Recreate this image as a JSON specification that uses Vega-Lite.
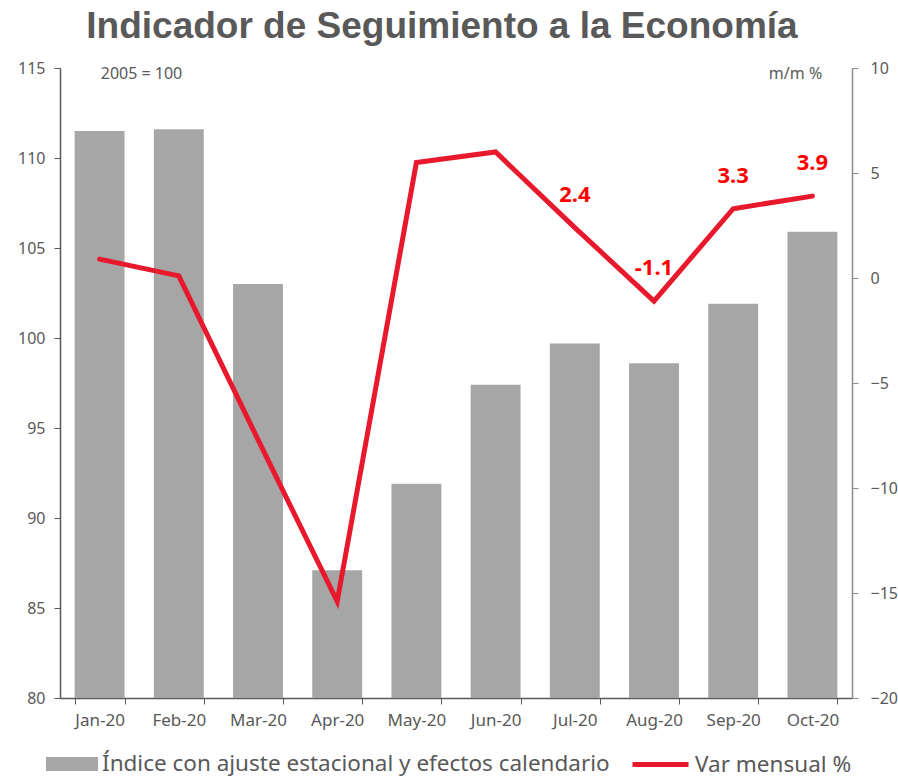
{
  "$schema": "https://vega.github.io/schema/vega-lite/v6.json",
  "width": 792,
  "height": 630,
  "autosize": {"type": "none"},
  "padding": {"left": 60, "top": 68, "right": 46, "bottom": 80},
  "background": "white",
  "title": {
    "text": "Indicador de Seguimiento a la Economía",
    "font": "Liberation Sans",
    "fontSize": 37,
    "fontWeight": "bold",
    "color": "#595959",
    "anchor": "middle",
    "offset": 14,
    "dx": -14
  },
  "config": {
    "view": {"stroke": null},
    "font": "Noto Sans",
    "axis": {"grid": false, "labelColor": "#595959", "titleColor": "#595959"}
  },
  "data": {
    "values": [
      {"mes": "Jan-20", "indice": 111.5, "var": 0.9},
      {"mes": "Feb-20", "indice": 111.6, "var": 0.1},
      {"mes": "Mar-20", "indice": 103.0, "var": -7.7},
      {"mes": "Apr-20", "indice": 87.1, "var": -15.4},
      {"mes": "May-20", "indice": 91.9, "var": 5.5},
      {"mes": "Jun-20", "indice": 97.4, "var": 6.0},
      {"mes": "Jul-20", "indice": 99.7, "var": 2.4, "etiqueta": "2.4"},
      {"mes": "Aug-20", "indice": 98.6, "var": -1.1, "etiqueta": "-1.1"},
      {"mes": "Sep-20", "indice": 101.9, "var": 3.3, "etiqueta": "3.3"},
      {"mes": "Oct-20", "indice": 105.9, "var": 3.9, "etiqueta": "3.9"}
    ]
  },
  "encoding": {
    "x": {
      "field": "mes",
      "type": "ordinal",
      "sort": null,
      "scale": {"paddingInner": 0.37, "paddingOuter": 0.185},
      "axis": {
        "title": null,
        "labelAngle": 0,
        "labelFontSize": 17,
        "labelPadding": 8,
        "tickBand": "extent",
        "tickSize": 6,
        "tickColor": "#595959",
        "domainColor": "#595959",
        "domainWidth": 1.5
      }
    }
  },
  "layer": [
    {
      "mark": {"type": "bar"},
      "encoding": {
        "y": {
          "field": "indice",
          "type": "quantitative",
          "scale": {"domain": [80, 115], "zero": false, "nice": false},
          "axis": {
            "values": [80, 85, 90, 95, 100, 105, 110, 115],
            "orient": "left",
            "title": "2005 = 100",
            "titleAngle": 0,
            "titleX": 81,
            "titleY": 5,
            "titleAlign": "center",
            "titleBaseline": "middle",
            "titleFontSize": 16,
            "titleFontWeight": "normal",
            "labelFontSize": 16,
            "labelPadding": 9,
            "tickSize": 6,
            "tickColor": "#595959",
            "domainColor": "#595959",
            "domainWidth": 1.5
          }
        },
        "y2": {"datum": 80},
        "fill": {
          "datum": "Índice con ajuste estacional y efectos calendario",
          "type": "nominal",
          "scale": {"range": ["#A6A6A6"]},
          "legend": {
            "title": null,
            "orient": "none",
            "legendX": -14,
            "legendY": 670,
            "symbolType": "M-1,-0.27H1V0.27H-1Z",
            "symbolSize": 2704,
            "symbolStrokeWidth": 0,
            "labelFontSize": 22.5,
            "labelColor": "#595959",
            "labelLimit": 700,
            "labelOffset": 4
          }
        }
      }
    },
    {
      "encoding": {
        "y": {
          "field": "var",
          "type": "quantitative",
          "scale": {"domain": [-20, 10], "nice": false},
          "axis": {
            "values": [-20, -15, -10, -5, 0, 5, 10],
            "orient": "right",
            "title": "m/m %",
            "titleAngle": 0,
            "titleX": -57,
            "titleY": 5,
            "titleAlign": "center",
            "titleBaseline": "middle",
            "titleFontSize": 16,
            "titleFontWeight": "normal",
            "labelFontSize": 16,
            "labelPadding": 12,
            "tickSize": 6,
            "tickColor": "#8C8C8C",
            "domainColor": "#8C8C8C",
            "domainWidth": 1.5
          }
        }
      },
      "layer": [
        {
          "mark": {"type": "line", "strokeWidth": 5, "strokeJoin": "miter", "strokeCap": "round"},
          "encoding": {
            "stroke": {
              "datum": "Var mensual %",
              "type": "nominal",
              "scale": {"range": ["#E8192C"]},
              "legend": {
                "title": null,
                "orient": "none",
                "legendX": 570,
                "legendY": 666,
                "symbolType": "stroke",
                "symbolSize": 3136,
                "symbolStrokeWidth": 5,
                "labelFontSize": 22.5,
                "labelColor": "#595959",
                "labelLimit": 300,
                "labelOffset": 4
              }
            }
          }
        },
        {
          "transform": [{"filter": "isValid(datum.etiqueta)"}],
          "mark": {"type": "text", "color": "#FF0000", "fontWeight": "bold", "fontSize": 22, "dy": -33, "baseline": "middle"},
          "encoding": {"text": {"field": "etiqueta"}}
        }
      ]
    }
  ],
  "resolve": {"scale": {"y": "independent"}}
}
